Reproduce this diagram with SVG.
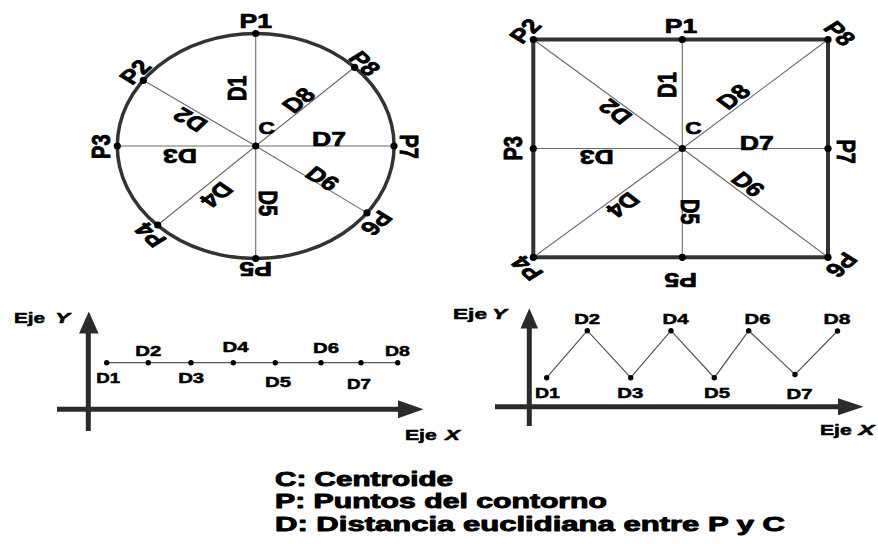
<svg xmlns="http://www.w3.org/2000/svg" width="878" height="544" viewBox="0 0 878 544">
<style>
.t{font-family:"Liberation Sans",Arial,sans-serif;font-weight:bold;fill:#000;stroke:#000;stroke-width:0.7;stroke-linejoin:round}
.lb{font-size:20px}
.c{font-size:17px}
.gl{font-size:15px;stroke-width:0.5}
.ej{font-size:14px;stroke-width:0.5}
.lg{font-size:19.5px;stroke-width:0.9}
.it{font-style:italic}
.ray{stroke:#6a6a6a;stroke-width:1.1;fill:none}
.gline{stroke:#555;stroke-width:1.2;fill:none}
.ax{stroke:#2b2b2b;stroke-width:5;fill:none}
.axh{fill:#2b2b2b}
.dot{fill:#000}
.border{stroke:#333;stroke-width:3.5;fill:none}
</style>
<rect width="878" height="544" fill="#fff"/>

<g id="connectors">
  <g id="circle-rays">
    <line class="ray" x1="255.7" y1="146" x2="255.7" y2="33.5"/>
    <line class="ray" x1="255.7" y1="146" x2="143.3" y2="80.3"/>
    <line class="ray" x1="255.7" y1="146" x2="117.3" y2="146"/>
    <line class="ray" x1="255.7" y1="146" x2="157.7" y2="225"/>
    <line class="ray" x1="255.7" y1="146" x2="255.7" y2="258.5"/>
    <line class="ray" x1="255.7" y1="146" x2="367" y2="212.9"/>
    <line class="ray" x1="255.7" y1="146" x2="394" y2="146"/>
    <line class="ray" x1="255.7" y1="146" x2="354.6" y2="67.3"/>
  </g>
  <g id="square-rays">
    <line class="ray" x1="682.3" y1="148.5" x2="682.3" y2="39.5"/>
    <line class="ray" x1="682.3" y1="148.5" x2="533.3" y2="39.5"/>
    <line class="ray" x1="682.3" y1="148.5" x2="533.3" y2="148.5"/>
    <line class="ray" x1="682.3" y1="148.5" x2="533.3" y2="257.3"/>
    <line class="ray" x1="682.3" y1="148.5" x2="682.3" y2="257.3"/>
    <line class="ray" x1="682.3" y1="148.5" x2="828" y2="257.3"/>
    <line class="ray" x1="682.3" y1="148.5" x2="828" y2="148.5"/>
    <line class="ray" x1="682.3" y1="148.5" x2="828" y2="39.5"/>
  </g>
  <polyline id="flat-series" class="gline" points="106.7,362.7 148.3,362.7 191,362.7 233.3,362.7 275.3,362.7 321,362.7 361,362.7 397.7,362.7"/>
  <polyline id="zigzag-series" class="gline" points="546.7,377.7 587.3,330.7 630.7,377.7 671,330.7 714.3,377.7 748.7,330.7 795,374.5 837.5,331"/>
</g>

<g id="circle-contour">
  <ellipse class="border" cx="255.7" cy="146" rx="138.4" ry="112.5"/>
  <circle class="dot" cx="255.7" cy="33.5" r="3.6"/>
  <circle class="dot" cx="143.3" cy="80.3" r="3.6"/>
  <circle class="dot" cx="117.3" cy="146" r="3.6"/>
  <circle class="dot" cx="157.7" cy="225" r="3.6"/>
  <circle class="dot" cx="255.7" cy="258.5" r="3.6"/>
  <circle class="dot" cx="367" cy="212.9" r="3.6"/>
  <circle class="dot" cx="394" cy="146" r="3.6"/>
  <circle class="dot" cx="354.6" cy="67.3" r="3.6"/>
  <circle class="dot" cx="255.7" cy="146" r="3.6"/>
  <g class="t lb" text-anchor="middle">
    <text transform="translate(255.7,20.3) scale(1.33,1)" dy=".36em">P1</text>
    <text transform="translate(135,71.7) scale(1.33,1) rotate(-50)" dy=".36em">P2</text>
    <text transform="translate(365,63.3) scale(1.33,1) rotate(50)" dy=".36em">P8</text>
    <text transform="translate(100,146.7) scale(1.33,1) rotate(-90)" dy=".36em">P3</text>
    <text transform="translate(410,146.7) scale(1.33,1) rotate(90)" dy=".36em">P7</text>
    <text transform="translate(150,235) scale(1.33,1) rotate(-130)" dy=".36em">P4</text>
    <text transform="translate(255.7,269) scale(1.33,1) rotate(180)" dy=".36em">P5</text>
    <text transform="translate(376.7,223.3) scale(1.33,1) rotate(130)" dy=".36em">P6</text>
    <text transform="translate(236.7,88.3) scale(1.33,1) rotate(-90)" dy=".36em">D1</text>
    <text transform="translate(190,120) scale(1.33,1) rotate(217.5)" dy=".36em">D2</text>
    <text transform="translate(180,156.7) scale(1.33,1) rotate(180)" dy=".36em">D3</text>
    <text transform="translate(216.7,195) scale(1.33,1) rotate(132.9)" dy=".36em">D4</text>
    <text transform="translate(268.3,203.3) scale(1.33,1) rotate(90)" dy=".36em">D5</text>
    <text transform="translate(322.7,178.3) scale(1.33,1) rotate(38.6)" dy=".36em">D6</text>
    <text transform="translate(329,139) scale(1.33,1)" dy=".36em">D7</text>
    <text transform="translate(298.3,100) scale(1.33,1) rotate(-46.7)" dy=".36em">D8</text>
    <text class="c" transform="translate(266.7,128.3) scale(1.33,1)" dy=".36em">C</text>
  </g>
</g>

<g id="square-contour">
  <rect x="533.3" y="39.5" width="294.7" height="217.8" stroke="#333" stroke-width="4" fill="none"/>
  <circle class="dot" cx="682.3" cy="39.5" r="3.6"/>
  <circle class="dot" cx="533.3" cy="39.5" r="3.6"/>
  <circle class="dot" cx="533.3" cy="148.5" r="3.6"/>
  <circle class="dot" cx="533.3" cy="257.3" r="3.6"/>
  <circle class="dot" cx="682.3" cy="257.3" r="3.6"/>
  <circle class="dot" cx="828" cy="257.3" r="3.6"/>
  <circle class="dot" cx="828" cy="148.5" r="3.6"/>
  <circle class="dot" cx="828" cy="39.5" r="3.6"/>
  <circle class="dot" cx="682.3" cy="148.5" r="3.6"/>
  <g class="t lb" text-anchor="middle">
    <text transform="translate(681,26) scale(1.33,1)" dy=".36em">P1</text>
    <text transform="translate(525,30.7) scale(1.33,1) rotate(-50)" dy=".36em">P2</text>
    <text transform="translate(840,33.3) scale(1.33,1) rotate(50)" dy=".36em">P8</text>
    <text transform="translate(512.3,148.3) scale(1.33,1) rotate(-90)" dy=".36em">P3</text>
    <text transform="translate(846.7,151.7) scale(1.33,1) rotate(90)" dy=".36em">P7</text>
    <text transform="translate(526.7,268.3) scale(1.33,1) rotate(-130)" dy=".36em">P4</text>
    <text transform="translate(680.7,280) scale(1.33,1) rotate(180)" dy=".36em">P5</text>
    <text transform="translate(841.7,265) scale(1.33,1) rotate(130)" dy=".36em">P6</text>
    <text transform="translate(666.7,85) scale(1.33,1) rotate(-90)" dy=".36em">D1</text>
    <text transform="translate(615,111.7) scale(1.33,1) rotate(224.4)" dy=".36em">D2</text>
    <text transform="translate(596.7,157.3) scale(1.33,1) rotate(180)" dy=".36em">D3</text>
    <text transform="translate(623.3,205) scale(1.33,1) rotate(136)" dy=".36em">D4</text>
    <text transform="translate(690.7,211.7) scale(1.33,1) rotate(90)" dy=".36em">D5</text>
    <text transform="translate(748.3,184) scale(1.33,1) rotate(44.6)" dy=".36em">D6</text>
    <text transform="translate(756.7,142.7) scale(1.33,1)" dy=".36em">D7</text>
    <text transform="translate(733.3,96.7) scale(1.33,1) rotate(-45.1)" dy=".36em">D8</text>
    <text class="c" transform="translate(693.3,128.3) scale(1.33,1)" dy=".36em">C</text>
  </g>
</g>

<g id="graph-flat">
  <line class="ax" x1="88.3" y1="431" x2="88.3" y2="330"/>
  <polygon class="axh" points="79,333.5 88.8,311.5 98.6,333.5"/>
  <line class="ax" x1="57" y1="409.3" x2="400" y2="409.3"/>
  <polygon class="axh" points="398,400.3 423.5,409.3 398,418.3"/>
  <circle class="dot" cx="106.7" cy="362.7" r="2.7"/>
  <circle class="dot" cx="148.3" cy="362.7" r="2.7"/>
  <circle class="dot" cx="191" cy="362.7" r="2.7"/>
  <circle class="dot" cx="233.3" cy="362.7" r="2.7"/>
  <circle class="dot" cx="275.3" cy="362.7" r="2.7"/>
  <circle class="dot" cx="321" cy="362.7" r="2.7"/>
  <circle class="dot" cx="361" cy="362.7" r="2.7"/>
  <circle class="dot" cx="397.7" cy="362.7" r="2.7"/>
  <g class="t gl" text-anchor="middle">
    <text x="108.3" y="383.3" textLength="24" lengthAdjust="spacingAndGlyphs">D1</text>
    <text x="148.3" y="355.7" textLength="26" lengthAdjust="spacingAndGlyphs">D2</text>
    <text x="191.2" y="383.3" textLength="26" lengthAdjust="spacingAndGlyphs">D3</text>
    <text x="235.5" y="351.7" textLength="26" lengthAdjust="spacingAndGlyphs">D4</text>
    <text x="278" y="387.3" textLength="26" lengthAdjust="spacingAndGlyphs">D5</text>
    <text x="326" y="353.3" textLength="26" lengthAdjust="spacingAndGlyphs">D6</text>
    <text x="359" y="389.3" textLength="24" lengthAdjust="spacingAndGlyphs">D7</text>
    <text x="397.5" y="356" textLength="25" lengthAdjust="spacingAndGlyphs">D8</text>
  </g>
  <g class="t ej">
    <text x="14" y="322.7" textLength="31" lengthAdjust="spacingAndGlyphs">Eje</text>
    <text class="it" x="55" y="322.7" textLength="15" lengthAdjust="spacingAndGlyphs">Y</text>
    <text x="405" y="440" textLength="31.7" lengthAdjust="spacingAndGlyphs">Eje</text>
    <text class="it" x="445" y="440" textLength="15" lengthAdjust="spacingAndGlyphs">X</text>
  </g>
</g>

<g id="graph-zigzag">
  <line class="ax" x1="529.3" y1="426" x2="529.3" y2="326"/>
  <polygon class="axh" points="520.5,328.5 529.3,308.3 538.1,328.5"/>
  <line class="ax" x1="495" y1="406.7" x2="840" y2="406.7"/>
  <polygon class="axh" points="838,398.2 863.5,406.7 838,415.2"/>
  <circle class="dot" cx="546.7" cy="377.7" r="2.7"/>
  <circle class="dot" cx="587.3" cy="330.7" r="2.7"/>
  <circle class="dot" cx="630.7" cy="377.7" r="2.7"/>
  <circle class="dot" cx="671" cy="330.7" r="2.7"/>
  <circle class="dot" cx="714.3" cy="377.7" r="2.7"/>
  <circle class="dot" cx="748.7" cy="330.7" r="2.7"/>
  <circle class="dot" cx="795" cy="374.5" r="2.7"/>
  <circle class="dot" cx="837.5" cy="331" r="2.7"/>
  <g class="t gl" text-anchor="middle">
    <text x="547.5" y="398.3" textLength="25" lengthAdjust="spacingAndGlyphs">D1</text>
    <text x="587.2" y="324" textLength="26" lengthAdjust="spacingAndGlyphs">D2</text>
    <text x="630.3" y="398.3" textLength="26" lengthAdjust="spacingAndGlyphs">D3</text>
    <text x="675.5" y="324" textLength="26" lengthAdjust="spacingAndGlyphs">D4</text>
    <text x="717" y="398.3" textLength="26" lengthAdjust="spacingAndGlyphs">D5</text>
    <text x="757.5" y="324" textLength="26" lengthAdjust="spacingAndGlyphs">D6</text>
    <text x="799.5" y="399" textLength="26" lengthAdjust="spacingAndGlyphs">D7</text>
    <text x="837" y="324" textLength="27" lengthAdjust="spacingAndGlyphs">D8</text>
  </g>
  <g class="t ej">
    <text x="453" y="319" textLength="34" lengthAdjust="spacingAndGlyphs">Eje</text>
    <text class="it" x="492" y="319" textLength="15" lengthAdjust="spacingAndGlyphs">Y</text>
    <text x="820" y="435" textLength="31.7" lengthAdjust="spacingAndGlyphs">Eje</text>
    <text class="it" x="858.5" y="435" textLength="16" lengthAdjust="spacingAndGlyphs">X</text>
  </g>
</g>

<g id="legend" class="t lg">
  <text x="275" y="486" textLength="178" lengthAdjust="spacingAndGlyphs">C: Centroide</text>
  <text x="275" y="508.3" textLength="332" lengthAdjust="spacingAndGlyphs">P: Puntos del contorno</text>
  <text x="275" y="531" textLength="510" lengthAdjust="spacingAndGlyphs">D: Distancia euclidiana entre P y C</text>
</g>
</svg>
